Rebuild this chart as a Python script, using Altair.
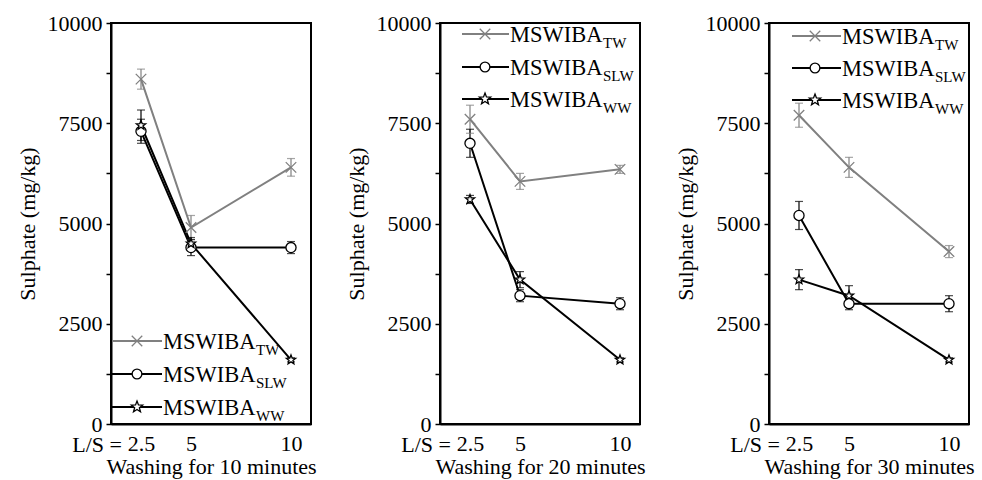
import math
import altair as alt
import pandas as pd

# ---------------- data ----------------
ls_values = [2.5, 5, 10]
ls_labels = ["2.5", "5", "10"]
ls_prefix = "L/S ="
panel_titles = ["Washing for 10 minutes", "Washing for 20 minutes", "Washing for 30 minutes"]
series = ["TW", "SLW", "WW"]

tw_10 = [8600, 4900, 6400]
tw_10_err = [250, 300, 220]
slw_10 = [7300, 4400, 4400]
slw_10_err = [300, 200, 150]
ww_10 = [7450, 4500, 1600]
ww_10_err = [380, 150, 50]

tw_20 = [7600, 6050, 6350]
tw_20_err = [350, 200, 100]
slw_20 = [7000, 3200, 3000]
slw_20_err = [350, 150, 150]
ww_20 = [5600, 3600, 1600]
ww_20_err = [100, 200, 50]

tw_30 = [7700, 6400, 4300]
tw_30_err = [300, 250, 150]
slw_30 = [5200, 3000, 3000]
slw_30_err = [350, 150, 200]
ww_30 = [3600, 3200, 1600]
ww_30_err = [250, 250, 50]

panels = [
    [(tw_10, tw_10_err), (slw_10, slw_10_err), (ww_10, ww_10_err)],
    [(tw_20, tw_20_err), (slw_20, slw_20_err), (ww_20, ww_20_err)],
    [(tw_30, tw_30_err), (slw_30, slw_30_err), (ww_30, ww_30_err)],
]

# ---------------- styling ----------------
FONT = "Times New Roman, Liberation Serif, Times, serif"
GRAY = "#808080"
colors = [GRAY, "black", "black"]


def star_path(inner=0.42):
    pts = []
    for k in range(10):
        r = 1.0 if k % 2 == 0 else inner
        a = math.radians(-90 + 36 * k)
        pts.append(f"{r * math.cos(a):.3f},{r * math.sin(a):.3f}")
    return "M" + "L".join(pts) + "Z"


cross_path = "M-1,-1L1,1M1,-1L-1,1"
shapes = [cross_path, "circle", star_path()]
sizes = [110, 95, 140]

legend_layout = [
    dict(rows=[318, 351, 384], x0=1, x1=51, xs=26, xt=52),
    dict(rows=[11, 44, 76], x0=22, x1=69, xs=45, xt=70),
    dict(rows=[13, 45, 77], x0=23, x1=72, xs=46, xt=73),
]

W, H = 200, 401

color_scale = alt.Scale(domain=series, range=colors)
shape_scale = alt.Scale(domain=series, range=shapes)
size_scale = alt.Scale(domain=series, range=sizes)

label_expr = " : ".join(
    f"datum.value == {v} ? '{l}'" for v, l in zip(ls_values, ls_labels)
) + " : ''"


def make_panel(idx):
    rows = []
    for s, (vals, errs) in zip(series, panels[idx]):
        for x, v, e in zip(ls_values, vals, errs):
            rows.append({"ls": x, "val": v, "lo": v - e, "hi": v + e, "series": s})
    df = pd.DataFrame(rows)

    x_enc = alt.X(
        "ls:Q",
        scale=alt.Scale(domain=[1, 11], nice=False, zero=False),
        axis=alt.Axis(values=ls_values, labelExpr=label_expr, ticks=False, grid=False,
                      title=panel_titles[idx], labelPadding=9, titlePadding=2),
    )
    y_enc = alt.Y(
        "val:Q",
        scale=alt.Scale(domain=[0, 10000], nice=False),
        axis=alt.Axis(values=[0, 1250, 2500, 3750, 5000, 6250, 7500, 8750, 10000],
                      labelExpr="datum.value % 2500 == 0 ? format(datum.value, 'd') : ''",
                      grid=False, tickSize=5, labelPadding=4, titlePadding=8,
                      title="Sulphate (mg/kg)"),
    )
    color_enc = alt.Color("series:N", scale=color_scale, legend=None)

    base = alt.Chart(df)
    lines = base.mark_line(strokeWidth=2).encode(x=x_enc, y=y_enc, color=color_enc, detail="series:N")
    rules = base.mark_rule(strokeWidth=1.2).encode(x="ls:Q", y="lo:Q", y2="hi:Q", color=color_enc)
    cap_lo = base.mark_tick(orient="horizontal", size=8, thickness=1.2).encode(x="ls:Q", y="lo:Q", color=color_enc)
    cap_hi = base.mark_tick(orient="horizontal", size=8, thickness=1.2).encode(x="ls:Q", y="hi:Q", color=color_enc)
    pts = base.mark_point(filled=False, fill="white", fillOpacity=1, opacity=1, strokeWidth=1.3).encode(
        x="ls:Q", y="val:Q", color=color_enc,
        shape=alt.Shape("series:N", scale=shape_scale, legend=None),
        size=alt.Size("series:N", scale=size_scale, legend=None),
    )

    layers = [lines, rules, cap_lo, cap_hi, pts]

    pre_df = pd.DataFrame({"t": [ls_prefix]})
    layers.append(alt.Chart(pre_df).mark_text(align="right", baseline="middle", font=FONT, fontSize=22,
                                              color="black").encode(
        x=alt.value(11), y=alt.value(H + 21), text="t:N"))

    lay = legend_layout[idx]
    leg_df = pd.DataFrame({"series": series, "label": ["MSWIBA"] * 3})
    for i, s in enumerate(series):
        yrow = lay["rows"][i]
        lb = alt.Chart(leg_df).transform_filter(alt.datum.series == s)
        layers.append(lb.mark_rule(color=colors[i], strokeWidth=2).encode(
            x=alt.value(lay["x0"]), x2=alt.value(lay["x1"]), y=alt.value(yrow)))
        layers.append(lb.mark_point(shape=shapes[i], size=sizes[i], filled=False, fill="white",
                                    fillOpacity=1, opacity=1, stroke=colors[i], strokeWidth=1.3).encode(
            x=alt.value(lay["xs"]), y=alt.value(yrow)))
        layers.append(lb.mark_text(align="left", baseline="middle", font=FONT, fontSize=22.5, color="black").encode(
            x=alt.value(lay["xt"]), y=alt.value(yrow + 1), text="label:N"))
        layers.append(lb.mark_text(align="left", baseline="middle", font=FONT, fontSize=15, color="black").encode(
            x=alt.value(lay["xt"] + 93), y=alt.value(yrow + 9), text="series:N"))

    return alt.layer(*layers).properties(width=W, height=H)


chart = alt.hconcat(make_panel(0), make_panel(1), make_panel(2), spacing=26).properties(
    padding={"left": 15, "top": 11, "right": 5, "bottom": 5}
).configure_view(
    stroke="black", strokeWidth=2
).configure_axis(
    domainColor="black", domainWidth=2, tickColor="black", tickWidth=1.5,
    labelFont=FONT, labelFontSize=22, labelColor="black",
    titleFont=FONT, titleFontSize=22, titleFontWeight="normal", titleColor="black",
)

chart.save("out.html", embed_options={"renderer": "svg", "actions": False})
